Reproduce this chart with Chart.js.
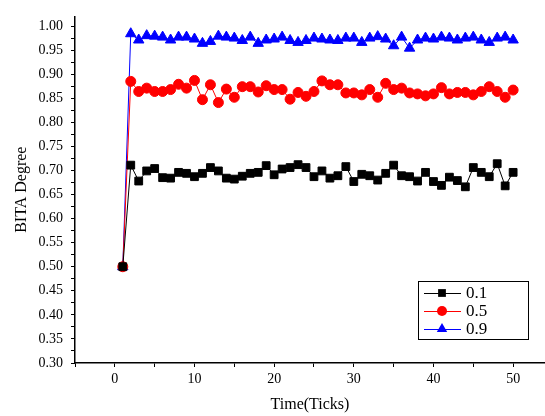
<!DOCTYPE html>
<html>
<head>
<meta charset="utf-8">
<script src="https://cdn.jsdelivr.net/npm/chart.js@4"></script>
<style>
  html, body { margin: 0; background: #fff; overflow: hidden; }
  #wrap { width: 552px; height: 416px; }
</style>
</head>
<body>
<div id="wrap"><canvas id="myChart"></canvas></div>
<script>
Chart.defaults.font.family = '"Liberation Serif", "Times New Roman", serif';
Chart.defaults.color = '#000';

var ticks = [1, 2, 3, 4, 5, 6, 7, 8, 9, 10, 11, 12, 13, 14, 15, 16, 17, 18, 19, 20,
  21, 22, 23, 24, 25, 26, 27, 28, 29, 30, 31, 32, 33, 34, 35, 36, 37, 38, 39, 40,
  41, 42, 43, 44, 45, 46, 47, 48, 49, 50];
var seriesNames = ['0.1', '0.5', '0.9'];

var s01 = [0.500, 0.711, 0.678, 0.699, 0.704, 0.685, 0.684, 0.696, 0.694, 0.687,
  0.694, 0.706, 0.699, 0.684, 0.682, 0.688, 0.694, 0.696, 0.710, 0.691,
  0.703, 0.706, 0.712, 0.706, 0.687, 0.699, 0.684, 0.689, 0.708, 0.677,
  0.692, 0.689, 0.680, 0.694, 0.711, 0.689, 0.687, 0.678, 0.696, 0.677,
  0.669, 0.686, 0.679, 0.666, 0.706, 0.696, 0.687, 0.714, 0.668, 0.696];
var s05 = [0.500, 0.885, 0.864, 0.871, 0.864, 0.864, 0.868, 0.879, 0.871, 0.887,
  0.847, 0.878, 0.841, 0.869, 0.852, 0.874, 0.874, 0.863, 0.876, 0.868,
  0.868, 0.848, 0.862, 0.854, 0.864, 0.886, 0.878, 0.878, 0.861, 0.861,
  0.857, 0.868, 0.852, 0.881, 0.868, 0.871, 0.861, 0.859, 0.855, 0.859,
  0.872, 0.859, 0.862, 0.862, 0.857, 0.864, 0.874, 0.864, 0.852, 0.867];
var s09 = [0.500, 0.984, 0.971, 0.980, 0.979, 0.977, 0.971, 0.977, 0.977, 0.973,
  0.964, 0.968, 0.979, 0.977, 0.975, 0.970, 0.977, 0.964, 0.971, 0.973,
  0.977, 0.970, 0.966, 0.970, 0.975, 0.973, 0.971, 0.970, 0.975, 0.975,
  0.966, 0.975, 0.978, 0.973, 0.959, 0.977, 0.954, 0.971, 0.975, 0.973,
  0.977, 0.975, 0.971, 0.975, 0.977, 0.971, 0.966, 0.975, 0.977, 0.971];

function pts(vals) {
  return vals.map(function (v, i) { return { x: ticks[i], y: v }; });
}

// legend box drawn inside the plot, like the original figure
var boxLegend = {
  id: 'boxLegend',
  afterDraw: function (chart) {
    var c = chart.ctx;
    var x0 = 418, y0 = 281, w = 110, h = 58;
    c.save();
    c.strokeStyle = '#000';
    c.lineWidth = 1;
    c.strokeRect(x0 + 0.5, y0 + 0.5, w, h);
    c.font = '17px "Liberation Serif", "Times New Roman", serif';
    c.textBaseline = 'middle';
    chart.data.datasets.forEach(function (ds, i) {
      var y = y0 + 12 + i * 18;
      c.strokeStyle = ds.borderColor;
      c.lineWidth = 1;
      c.beginPath();
      c.moveTo(x0 + 6, y + 0.5);
      c.lineTo(x0 + 43, y + 0.5);
      c.stroke();
      c.fillStyle = ds.pointBackgroundColor;
      Chart.helpers.drawPoint(c, {
        pointStyle: ds.pointStyle, radius: ds.pointRadius, rotation: 0, borderWidth: 0
      }, x0 + 24, y);
      c.fillStyle = '#000';
      c.fillText(ds.label, x0 + 48, y + 1);
    });
    c.restore();
  }
};

var ctx = document.getElementById('myChart');

var myChart = new Chart(ctx, {
  type: 'line',
  data: {
    datasets: [{
      label: seriesNames[0],
      data: pts(s01),
      borderColor: '#000',
      backgroundColor: '#000',
      pointBackgroundColor: '#000',
      pointBorderColor: '#000',
      pointStyle: 'rect',
      pointRadius: 5.5,
      borderWidth: 1
    }, {
      label: seriesNames[1],
      data: pts(s05),
      borderColor: '#ff0000',
      backgroundColor: '#ff0000',
      pointBackgroundColor: '#ff0000',
      pointBorderColor: '#ff0000',
      pointStyle: 'circle',
      pointRadius: 5,
      borderWidth: 1
    }, {
      label: seriesNames[2],
      data: pts(s09),
      borderColor: '#0000ff',
      backgroundColor: '#0000ff',
      pointBackgroundColor: '#0000ff',
      pointBorderColor: '#0000ff',
      pointStyle: 'triangle',
      pointRadius: 6,
      borderWidth: 1
    }]
  },
  options: {
    responsive: true,
    maintainAspectRatio: false,
    animation: false,
    layout: { padding: { top: 14, right: 0, left: 0, bottom: 0 } },
    plugins: {
      legend: { display: false },
      tooltip: { enabled: false }
    },
    elements: { line: { tension: 0 }, point: { borderWidth: 0 } },
    scales: {
      x: {
        type: 'linear',
        min: -5,
        max: 54,
        border: { color: '#000', width: 1.5 },
        grid: { display: true, drawOnChartArea: false, color: '#000', tickLength: 4, lineWidth: 1 },
        ticks: {
          stepSize: 5,
          includeBounds: false,
          autoSkip: false,
          maxRotation: 0,
          padding: 4,
          font: { size: 14 },
          callback: function (v) { return (v % 10 === 0) ? String(v) : ''; }
        },
        title: {
          display: true,
          text: 'Time(Ticks)',
          font: { size: 16 },
          padding: { top: 4, bottom: 2 }
        },
        afterFit: function (s) { s.height = 53; }
      },
      y: {
        min: 0.30,
        max: 1.02,
        border: { color: '#000', width: 1.5 },
        grid: { display: true, drawOnChartArea: false, color: '#000', tickLength: 4, lineWidth: 1 },
        ticks: {
          stepSize: 0.025,
          includeBounds: false,
          autoSkip: false,
          padding: 8,
          font: { size: 14 },
          callback: function (v) {
            var m = Math.round(v * 1000);
            return (m % 50 === 0) ? (m / 1000).toFixed(2) : '';
          }
        },
        title: {
          display: true,
          text: 'BITA Degree',
          font: { size: 16 },
          padding: { top: 12, bottom: 0 }
        },
        afterFit: function (s) { s.width = 75; }
      }
    }
  },
  plugins: [boxLegend]
});
</script>
</body>
</html>
